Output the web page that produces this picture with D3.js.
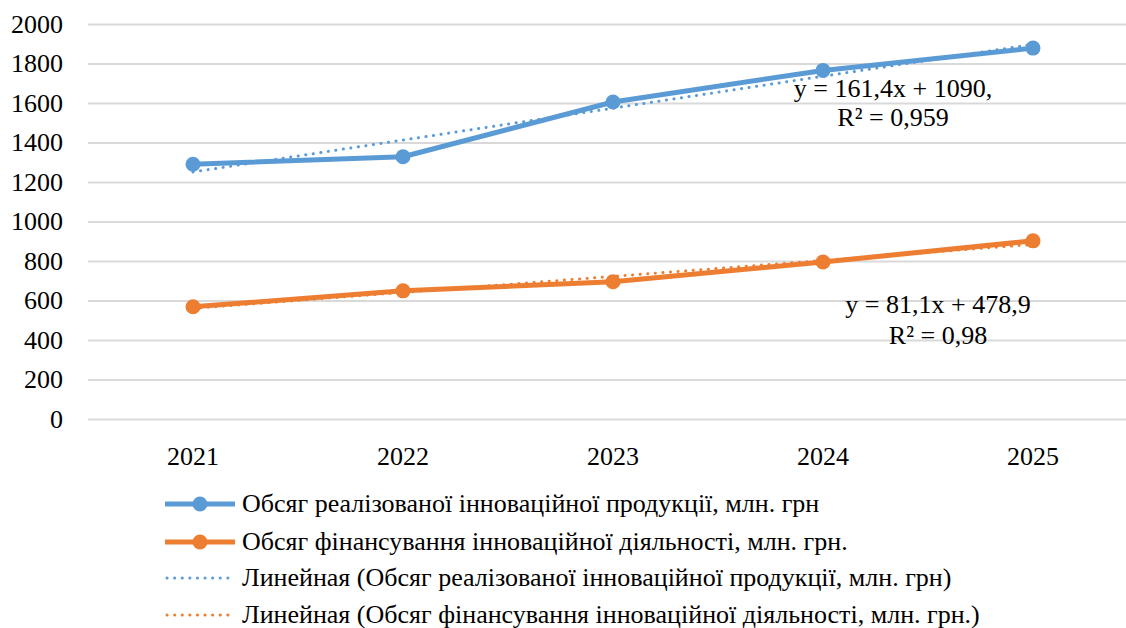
<!DOCTYPE html>
<html>
<head>
<meta charset="utf-8">
<script src="https://cdn.jsdelivr.net/npm/d3@7"></script>
<style>
  body { margin: 0; background: #fff; }
  svg text { font-family: "Liberation Serif", "Times New Roman", "DejaVu Serif", serif !important; }
</style>
</head>
<body>
<svg id="chart" width="1126" height="628"></svg>
<script>
// data
const years = ['2021', '2022', '2023', '2024', '2025'];
const salesValues = [1290, 1328, 1605, 1765, 1878];
const fundingValues = [568, 649, 695, 795, 902];
// trend line ends (first and last year)
const salesTrend = [1251, 1897];
const fundingTrend = [560, 884];
const yTicks = [0, 200, 400, 600, 800, 1000, 1200, 1400, 1600, 1800, 2000];
const seriesNames = [
  'Обсяг реалізованої інноваційної продукції, млн. грн',
  'Обсяг фінансування інноваційної діяльності, млн. грн.',
  'Линейная (Обсяг реалізованої інноваційної продукції, млн. грн)',
  'Линейная (Обсяг фінансування інноваційної діяльності, млн. грн.)'
];
const trendLabels = [
  ['y = 161,4x + 1090,', 'R² = 0,959'],
  ['y = 81,1x + 478,9', 'R² = 0,98']
];

const blue = '#5b9bd5';
const orange = '#ed7d31';
const fontSize = 26;

const svg = d3.select('#chart');
const plotLeft = 88, plotRight = 1138, plotTop = 24, plotBottom = 419;

const x = d3.scaleBand().domain(years).range([plotLeft, plotRight]);
const xc = d => x(d) + x.bandwidth() / 2;
const y = d3.scaleLinear().domain([0, 2000]).range([plotBottom, plotTop]);

// gridlines
svg.append('g')
  .attr('transform', `translate(${plotLeft},0)`)
  .call(d3.axisLeft(y).tickValues(yTicks).tickSize(-(1126 - plotLeft)).tickFormat(''))
  .call(g => g.select('.domain').remove())
  .selectAll('line').attr('stroke', '#d9d9d9').attr('stroke-width', 2);

// y labels
svg.append('g')
  .attr('transform', `translate(${plotLeft},0)`)
  .call(d3.axisLeft(y).tickValues(yTicks).tickSize(0).tickPadding(25).tickFormat(d3.format('d')))
  .call(g => g.select('.domain').remove())
  .selectAll('text')
  .attr('font-size', fontSize)
  .attr('fill', '#000');

// x labels
svg.append('g')
  .attr('transform', `translate(0,${plotBottom})`)
  .call(d3.axisBottom(x).tickSize(0).tickPadding(28))
  .call(g => g.select('.domain').remove())
  .selectAll('text')
  .attr('font-size', fontSize)
  .attr('fill', '#000');

const line = d3.line().x(d => xc(d[0])).y(d => y(d[1]));
const first = years[0], last = years[years.length - 1];

// trend lines
[[salesTrend, blue], [fundingTrend, orange]].forEach(([t, c]) => {
  svg.append('path')
    .attr('d', line([[first, t[0]], [last, t[1]]]))
    .attr('fill', 'none')
    .attr('stroke', c)
    .attr('stroke-width', 3)
    .attr('stroke-dasharray', '0.1 7.5')
    .attr('stroke-linecap', 'round');
});

// series
[[salesValues, blue], [fundingValues, orange]].forEach(([vals, c]) => {
  const pts = years.map((yr, i) => [yr, vals[i]]);
  svg.append('path')
    .attr('d', line(pts))
    .attr('fill', 'none')
    .attr('stroke', c)
    .attr('stroke-width', 5)
    .attr('stroke-linejoin', 'round');
  svg.selectAll(null).data(pts).enter().append('circle')
    .attr('cx', d => xc(d[0]))
    .attr('cy', d => y(d[1]))
    .attr('r', 7.5)
    .attr('fill', c);
});

// trend equation labels
const labelPos = [[893, 97, 126], [938, 313, 344]];
trendLabels.forEach((lines, i) => {
  const [lx, y1, y2] = labelPos[i];
  svg.append('text').attr('x', lx).attr('y', y1).attr('text-anchor', 'middle')
    .attr('font-size', fontSize).text(lines[0]);
  svg.append('text').attr('x', lx).attr('y', y2).attr('text-anchor', 'middle')
    .attr('font-size', fontSize).text(lines[1]);
});

// legend
const legendRows = [504, 542, 578, 615];
const legendColors = [blue, orange, blue, orange];
seriesNames.forEach((name, i) => {
  const ly = legendRows[i];
  const g = svg.append('g');
  if (i < 2) {
    g.append('line').attr('x1', 165).attr('x2', 235).attr('y1', ly).attr('y2', ly)
      .attr('stroke', legendColors[i]).attr('stroke-width', 5);
    g.append('circle').attr('cx', 200).attr('cy', ly).attr('r', 7.5).attr('fill', legendColors[i]);
  } else {
    g.append('line').attr('x1', 167).attr('x2', 233).attr('y1', ly).attr('y2', ly)
      .attr('stroke', legendColors[i]).attr('stroke-width', 3)
      .attr('stroke-dasharray', '0.1 7.5').attr('stroke-linecap', 'round');
  }
  g.append('text').attr('x', 242).attr('y', ly + 8).attr('font-size', fontSize).text(name);
});
</script>
</body>
</html>
